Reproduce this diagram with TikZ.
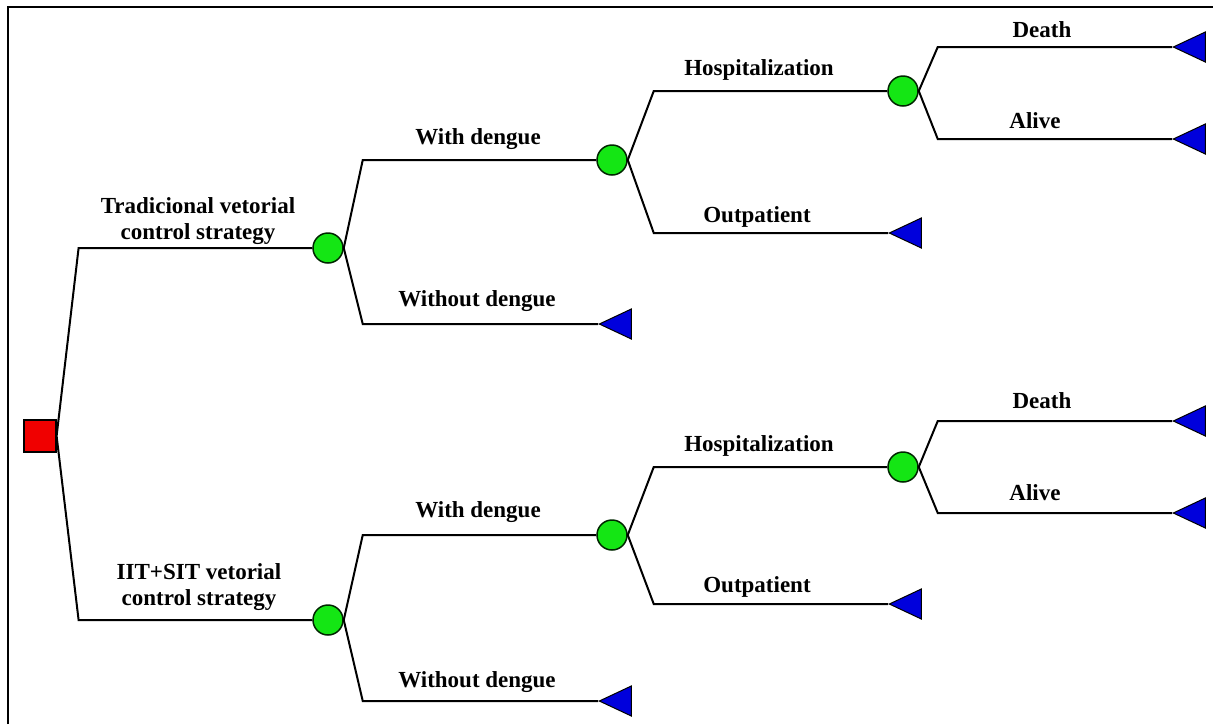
\documentclass[tikz,border=0pt]{standalone}
\usepackage{fontspec}
\setmainfont{Liberation Serif}
\usetikzlibrary{shapes.geometric}

\definecolor{nodered}{RGB}{240,0,0}
\definecolor{nodegreen}{RGB}{20,230,20}
\definecolor{nodeblue}{RGB}{0,0,220}

\begin{document}
\begin{tikzpicture}
  [x=1pt, y=-1pt,
   decision/.style={rectangle, draw, fill=nodered, minimum size=32pt, inner sep=0pt, line width=1.2pt},
   chance/.style={circle, draw=black!85!green, fill=nodegreen, minimum size=30pt, inner sep=0pt, line width=1.5pt},
   terminal/.style={isosceles triangle, isosceles triangle stretches, shape border rotate=180,
                    draw, fill=nodeblue, minimum width=30pt, minimum height=32pt, inner sep=0pt,
                    line width=1pt, anchor=apex},
   lbl/.style={anchor=base, inner sep=0pt, font=\fontsize{23}{25.5}\selectfont\bfseries},
   every path/.style={line width=2pt}]
  \useasboundingbox (0,0) rectangle (1213,724);
  \draw[line width=2.2pt] (8,724) -- (8,7) -- (1213,7);

  \node (dec) [decision] at (40,436) {};
  % tradicional arm
  \node (trad) [chance] at (328,248) {};
  \node (trwd) [chance] at (612,160) {};
  \node (trhosp) [chance] at (903,91) {};
  \node (trdeath) [terminal] at (1172,47) {};
  \node (tralive) [terminal] at (1172,139) {};
  \node (trout) [terminal] at (888,233) {};
  \node (trwo) [terminal] at (598,324) {};
  % IIT+SIT arm
  \node (iit) [chance] at (328,620) {};
  \node (iitwd) [chance] at (612,535) {};
  \node (iithosp) [chance] at (903,467) {};
  \node (iitdeath) [terminal] at (1172,421) {};
  \node (iitalive) [terminal] at (1172,513) {};
  \node (iitout) [terminal] at (888,604) {};
  \node (iitwo) [terminal] at (598,701) {};

  \node (lbltrad) [lbl, anchor=center, align=center] at (198,221) {Tradicional vetorial\\control strategy};
  \node (lbltrwd) [lbl] at (478,144) {With dengue};
  \node (lbltrwo) [lbl] at (477,306) {Without dengue};
  \node (lbltrhosp) [lbl] at (759,75) {Hospitalization};
  \node (lbltrout) [lbl] at (757,222) {Outpatient};
  \node (lbltrdeath) [lbl] at (1042,37) {Death};
  \node (lbltralive) [lbl] at (1035,128) {Alive};

  \node (lbliit) [lbl, anchor=center, align=center] at (199,587) {IIT+SIT vetorial\\control strategy};
  \node (lbliitwd) [lbl] at (478,517) {With dengue};
  \node (lbliitwo) [lbl] at (477,687) {Without dengue};
  \node (lbliithosp) [lbl] at (759,451) {Hospitalization};
  \node (lbliitout) [lbl] at (757,592) {Outpatient};
  \node (lbliitdeath) [lbl] at (1042,408) {Death};
  \node (lbliitalive) [lbl] at (1035,500) {Alive};

  \draw (dec.east) -- ++(22,-188) -- (trad);
  \draw (dec.east) -- ++(22,184) -- (iit);

  \draw (trad.east) -- ++(19,-88) -- (trwd);
  \draw (trad.east) -- ++(19,76) -- (trwo.apex);
  \draw (trwd.east) -- ++(26,-69) -- (trhosp);
  \draw (trwd.east) -- ++(26,73) -- (trout.apex);
  \draw (trhosp.east) -- ++(19,-44) -- (trdeath.apex);
  \draw (trhosp.east) -- ++(19,48) -- (tralive.apex);

  \draw (iit.east) -- ++(19,-85) -- (iitwd);
  \draw (iit.east) -- ++(19,81) -- (iitwo.apex);
  \draw (iitwd.east) -- ++(26,-68) -- (iithosp);
  \draw (iitwd.east) -- ++(26,69) -- (iitout.apex);
  \draw (iithosp.east) -- ++(19,-46) -- (iitdeath.apex);
  \draw (iithosp.east) -- ++(19,46) -- (iitalive.apex);
\end{tikzpicture}
\end{document}
